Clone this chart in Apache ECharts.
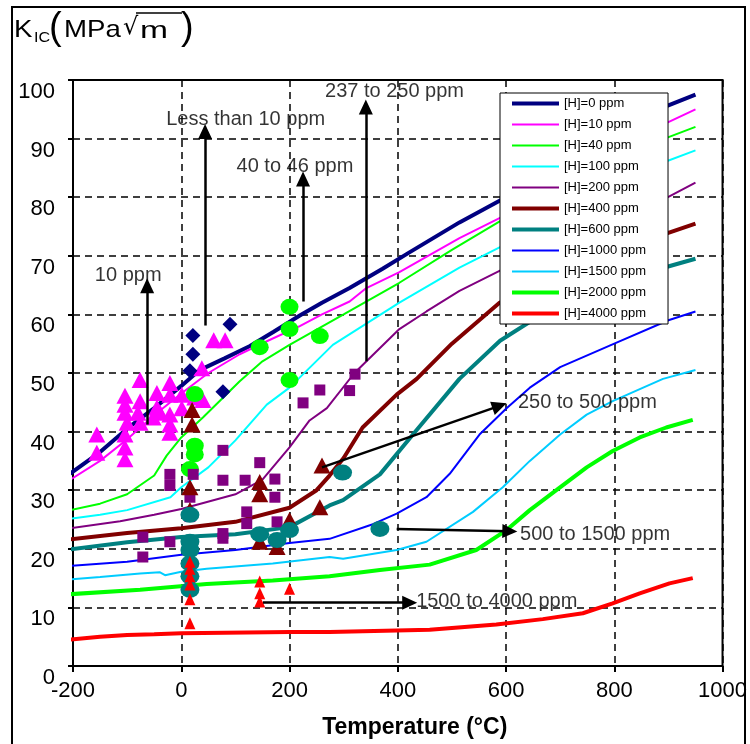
<!DOCTYPE html>
<html>
<head>
<meta charset="utf-8">
<script src="https://cdn.jsdelivr.net/npm/echarts@6/dist/echarts.min.js"></script>
<style>html,body{margin:0;padding:0;background:#fff}#c{width:750px;height:744px}</style>
</head>
<body>
<div id="c"></div>
<script>
// ---- data ----
const xTicks = [-200, 0, 200, 400, 600, 800, 1000];
const yTicks = [0, 10, 20, 30, 40, 50, 60, 70, 80, 90, 100];

const curveNames = ['[H]=0 ppm','[H]=10 ppm','[H]=40 ppm','[H]=100 ppm','[H]=200 ppm','[H]=400 ppm','[H]=600 ppm','[H]=1000 ppm','[H]=1500 ppm','[H]=2000 ppm','[H]=4000 ppm'];

const h0 = [[-215,32.2],[-150,36.5],[-100,40.5],[-50,44],[0,47.8],[34,50.5],[80,52.5],[127,54.6],[170,57],[219,59.8],[260,62],[311,64.5],[372,67.8],[420,70.5],[514,75.7],[600,80],[700,85],[800,90],[893,95.4],[950,97.5]];
const h10 = [[-215,31.2],[-150,35],[-100,38.7],[-50,42.8],[0,46.5],[50,50],[108,53.2],[160,55.5],[219,58],[260,60],[311,62.2],[342,64.5],[403,67.2],[514,73],[600,77],[700,82],[800,87],[893,92.5],[950,95]];
const h40 = [[-215,26.4],[-150,27.7],[-100,29.3],[-50,32.5],[-27,35.9],[0,39],[40,42.4],[108,48.6],[150,52],[200,54.8],[300,60],[403,65.4],[500,71],[600,76.5],[700,81.5],[800,86],[893,90],[950,92]];
const h100 = [[-215,25],[-150,25.8],[-100,26.6],[-20,28.8],[0,30.5],[50,33.9],[100,38.5],[158,44.6],[200,47.5],[280,54.8],[403,62],[514,68],[600,72],[700,77],[800,81.5],[893,86],[950,88]];
const h200 = [[-215,23.4],[-113,24.7],[-50,25.8],[0,26.8],[100,29.3],[150,31.8],[200,37.3],[237,41.9],[269,44],[320,50],[403,57.5],[453,60.5],[514,64],[600,68],[700,72.5],[800,76.5],[893,79.7],[950,82.5]];
const h400 = [[-215,21.5],[-100,22.7],[0,23.5],[100,24.6],[200,27],[250,30],[274,32.5],[300,35.5],[335,40.7],[398,46.3],[435,49],[500,55],[588,62],[700,67],[800,70.5],[893,73.7],[950,75.5]];
const h600 = [[-215,19.8],[-100,21.1],[0,22],[100,22.5],[200,23.7],[274,27.4],[299,28.3],[367,32.7],[428,39.5],[514,49],[589,55.5],[700,62],[800,65.5],[893,68],[950,69.5]];
const h1000 = [[-215,17],[-100,17.8],[0,19],[100,19.8],[200,21],[274,21.7],[354,24.2],[398,26],[453,28.8],[496,32.8],[551,39.5],[601,44],[644,47.5],[700,51],[800,55],[900,59],[950,60.5]];
const h1500 = [[-215,14.7],[-150,15.2],[-76,15.8],[-40,16],[-30,15.5],[0,16.1],[47,16.6],[169,17.5],[274,18.6],[299,18.3],[398,19.8],[453,21.2],[539,26.3],[594,30.5],[644,35],[700,39.5],[749,42.9],[797,45.2],[890,49],[950,50.5]];
const h2000 = [[-215,12.2],[-76,13],[47,14],[169,14.6],[274,15.3],[367,16.4],[459,17.3],[545,19.8],[601,23.2],[644,26.6],[693,30],[749,33.9],[797,36.7],[847,39],[896,40.7],[945,42]];
const h4000 = [[-215,4.4],[-150,5],[-100,5.3],[-50,5.4],[0,5.6],[200,5.8],[274,5.8],[459,6.2],[582,7.1],[668,8],[742,9],[797,10.7],[847,12.4],[902,14.1],[945,15]];

const pts10 = [[-156,39.5],[-156,36.4],[-104,46.1],[-104,44.6],[-104,43.2],[-104,39.5],[-104,37.3],[-104,35.3],[-100,41.5],[-76,48.8],[-76,45.2],[-80,43.2],[-76,41.5],[-52,42.4],[-45,46.6],[-45,44.1],[-39,43.2],[-21,48.3],[-21,46.3],[-21,42.9],[-21,41.2],[-21,39.8],[1,46.3],[1,44],[25,45.8],[40,45.4],[38,50.8],[60,55.6],[81,55.6]];
const ptsLess10 = [[21.5,56.4],[21.5,53.2],[16,50.4],[90,58.3],[77,46.8]];
const pts40 = [[200,61.3],[200,57.5],[145,54.4],[200,48.8],[256,56.3],[25,46.4],[25,37.6],[25,36.1],[16,33.6]];
const pts237 = [[-71,22],[-71,18.6],[-21,32.7],[-21,30.8],[-21,21.2],[22,32.7],[16,28.8],[16,25.5],[77,36.8],[77,31.7],[77,22.6],[77,21.8],[118,31.7],[121,26.3],[121,24.3],[145,34.7],[173,31.9],[173,28.8],[177,24.6],[225,44.9],[256,47.1],[311,47],[321,49.8]];
const pts250 = [[20,43.7],[20,41.2],[16,30.5],[16,26.6],[145,31.4],[145,29.3],[145,21.2],[177,20.3],[200,24.9],[256,27.1],[260,34.2]];
const pts500 = [[16,25.8],[16,21.2],[16,19.8],[16,17.5],[16,15.3],[16,13],[145,22.5],[177,21.5],[200,23.2],[298,33],[367,23.4]];
const pts1500 = [[16,17.8],[16,16.6],[16,15.3],[16,13.9],[16,11.4],[16,7.3],[145,14.4],[145,12.4],[145,11],[200,13.2]];

const noteTexts = ['10 ppm','Less than 10 ppm','40 to 46 ppm','237 to 250 ppm','250 to 500 ppm','500 to 1500 ppm','1500 to 4000 ppm'];
const notePos = [[-98,66.6],[119,93.2],[210,85.3],[394,98],[621,44.9],[625,22.4],[433,11]];
const noteAlign = ['center','center','center','center','left','left','left'];
const arrows = [
  [[-63,41.2],[-63,64.9]],
  [[44,58.1],[44,91.2]],
  [[225,62.2],[225,83.1]],
  [[341,52],[341,95.4]],
  [[260,33.9],[588,44.4]],
  [[398,23.4],[607,23]],
  [[151,10.8],[422,10.8]]
];

// ---- chart ----
const FONT = 'Liberation Sans, Arial, sans-serif';
const curves = [h0,h10,h40,h100,h200,h400,h600,h1000,h1500,h2000,h4000];
const colors = ['#000080','#FF00FF','#00FF00','#00FFFF','#800080','#800000','#008080','#0000FF','#00CCFF','#00FF00','#FF0000'];
const widths = [4,2,2,2,2,4,4,2,2,4,4];

const series = curves.map((d,i)=>({
  name: curveNames[i], type:'line', data:d, symbol:'none', clip:false,
  lineStyle:{color:colors[i], width:widths[i]}, itemStyle:{color:colors[i]},
  z: 2, animation:false
}));

function sc(name, data, symbol, size, color){
  return {name, type:'scatter', data, symbol, symbolSize:size, itemStyle:{color, opacity:1}, z:3, animation:false};
}
series.push(sc('p10', pts10, 'triangle', [17,16], '#FF00FF'));
series.push(sc('pLess10', ptsLess10, 'diamond', [15,15], '#000080'));
series.push(sc('p40', pts40, 'circle', [18,16], '#00FF00'));
series.push(sc('p237', pts237, 'rect', [11,11], '#800080'));
series.push(sc('p250', pts250, 'triangle', [17,16], '#800000'));
series.push(sc('p500', pts500, 'circle', [19,16], '#008080'));
series.push(sc('p1500', pts1500, 'triangle', [11,12], '#FF0000'));

series.push({
  name:'notes', type:'scatter', z:5, animation:false, symbolSize:1,
  itemStyle:{color:'transparent'},
  data: notePos.map((p,i)=>({value:p, label:{show:true, formatter:noteTexts[i],
     position: noteAlign[i]==='left' ? 'right' : 'inside', distance:0,
     fontSize:20, fontFamily:FONT, color:'#000'}})),
  markLine:{
    silent:true, symbol:['none','triangle'], symbolSize:[14,15], animation:false,
    lineStyle:{color:'#000', width:2.5, type:'solid'}, label:{show:false},
    data: arrows.map(a=>[{coord:a[0]},{coord:a[1]}])
  }
});

const chart = echarts.init(document.getElementById('c'), null, {renderer:'canvas'});
chart.setOption({
  backgroundColor:'#fff',
  animation:false,
  grid:{left:73, right:27, top:80, bottom:74, show:true, borderColor:'#000', borderWidth:2},
  xAxis:{
    type:'value', min:xTicks[0], max:xTicks[xTicks.length-1], interval:200,
    name:'Temperature (°C)', nameLocation:'middle', nameGap:50,
    nameTextStyle:{fontSize:23, fontWeight:'bold', color:'#000', fontFamily:FONT, padding:[0,0,0,34]},
    axisLine:{show:true, onZero:false, lineStyle:{color:'#000', width:2}},
    axisTick:{show:true, length:6, lineStyle:{color:'#000', width:2}},
    axisLabel:{fontSize:22, color:'#000', fontFamily:FONT, margin:14, formatter:(v)=>String(v)},
    splitLine:{show:true, lineStyle:{color:'#000', width:1.5, type:[7,5]}}
  },
  yAxis:{
    type:'value', min:yTicks[0], max:yTicks[yTicks.length-1], interval:10,
    axisLine:{show:true, onZero:false, lineStyle:{color:'#000', width:2}},
    axisTick:{show:true, length:5, lineStyle:{color:'#000', width:2}},
    axisLabel:{fontSize:22, color:'#000', fontFamily:FONT, margin:18, verticalAlign:'top', padding:[1,0,0,0], formatter:(v)=>String(v)},
    splitLine:{show:true, lineStyle:{color:'#000', width:1.5, type:[7,5]}}
  },
  legend:{
    data:curveNames.map((n,i)=>({name:n, lineStyle:{width:widths[i], color:colors[i]}})),
    orient:'vertical', left:500, top:93,
    itemWidth:47, itemHeight:14, itemGap:8, padding:[4,22,4,10],
    backgroundColor:'#fff', borderColor:'#000', borderWidth:1, borderRadius:0,
    itemStyle:{opacity:0, color:'transparent', borderWidth:0},
    selectedMode:false, textStyle:{fontSize:13, color:'#000', fontFamily:FONT}, z:10
  },
  graphic:[
    {type:'rect', shape:{x:12, y:7, width:733, height:760}, style:{fill:'none', stroke:'#000', lineWidth:2}, z:100, silent:true},
    {type:'text', x:14, y:30, scaleX:1.15, style:{text:'K', fontSize:24, fontFamily:FONT, fill:'#000', verticalAlign:'middle'}},
    {type:'text', x:34, y:38, scaleX:1.15, style:{text:'IC', fontSize:14, fontFamily:FONT, fill:'#000', verticalAlign:'middle'}},
    {type:'text', x:49, y:29, style:{text:'(', fontSize:38, fontFamily:FONT, fill:'#000', verticalAlign:'middle'}},
    {type:'text', x:64, y:30, scaleX:1.15, style:{text:'MPa', fontSize:24, fontFamily:FONT, fill:'#000', verticalAlign:'middle'}},
    {type:'text', x:123, y:28, style:{text:'√', fontSize:24, fontFamily:'DejaVu Sans, sans-serif', fill:'#000', verticalAlign:'middle'}},
    {type:'line', shape:{x1:136, y1:13, x2:182, y2:13}, style:{stroke:'#000', lineWidth:1.5}},
    {type:'text', x:140, y:31, scaleX:1.4, style:{text:'m', fontSize:24, fontFamily:FONT, fill:'#000', verticalAlign:'middle'}},
    {type:'text', x:181, y:29, style:{text:')', fontSize:38, fontFamily:FONT, fill:'#000', verticalAlign:'middle'}}
  ],
  series
});
</script>
</body>
</html>
